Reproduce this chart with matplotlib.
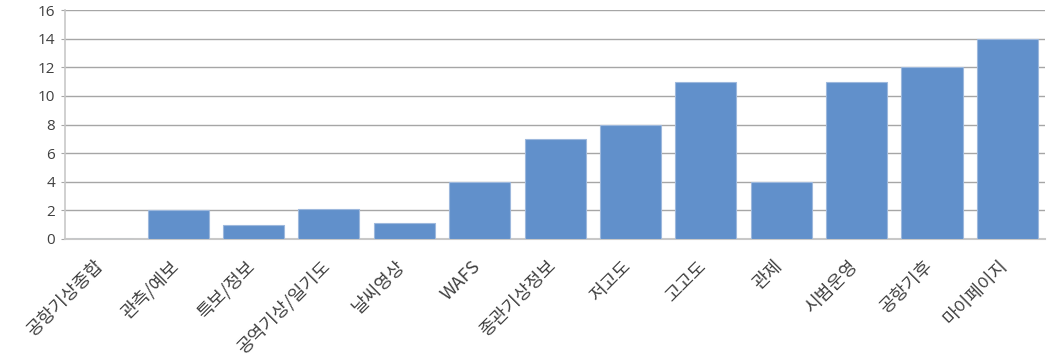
import matplotlib.pyplot as plt
from matplotlib.transforms import ScaledTranslation

plt.rcParams['font.family'] = ['Noto Sans CJK KR', 'DejaVu Sans']

categories = ["공항기상종합", "관측/예보", "특보/정보", "공역기상/일기도", "날씨영상", "WAFS",
              "종관기상정보", "저고도", "고고도", "관제", "시범운영", "공항기후", "마이페이지"]
values = [0, 2, 0.95, 2.13, 1.1, 4, 7, 8, 11, 4, 11, 12, 14]
y_ticks = [0, 2, 4, 6, 8, 10, 12, 14, 16]

fig = plt.figure(figsize=(10.55, 3.56), dpi=100)
ax = fig.add_axes([0.0616, 0.3287, 0.929, 0.643])

x = range(len(categories))
ax.bar(x, values, width=0.81, color="#6190CB", edgecolor="#9DB8DD", linewidth=0.8, zorder=3)

ax.set_ylim(0, 16)
ax.set_yticks(y_ticks)
ax.set_xlim(-0.5, len(categories) - 0.5)
ax.yaxis.grid(True, color="#A6A6A6", linewidth=1.0, zorder=0)
ax.set_axisbelow(True)

for side in ("top", "right"):
    ax.spines[side].set_visible(False)
ax.spines["left"].set_color("#C8C8C8")
ax.spines["bottom"].set_color("#C8C8C8")
ax.spines["left"].set_linewidth(1.2)
ax.spines["bottom"].set_linewidth(1.5)

ax.tick_params(axis="y", length=3, color="#A6A6A6", labelsize=11, labelcolor="#404040", pad=4)
for lbl in ax.get_yticklabels():
    lbl.set_family(["Open Sans", "DejaVu Sans"])

ax.tick_params(axis="x", length=0, labelsize=13, labelcolor="#404040", pad=13)
ax.set_xticks(list(x))
ax.set_xticklabels(categories, rotation=45, ha="right", rotation_mode="anchor")
shift = ScaledTranslation(-6 / 72, 0, fig.dpi_scale_trans)
for lbl in ax.get_xticklabels():
    lbl.set_transform(lbl.get_transform() + shift)

fig.savefig("out.png", dpi=100)
